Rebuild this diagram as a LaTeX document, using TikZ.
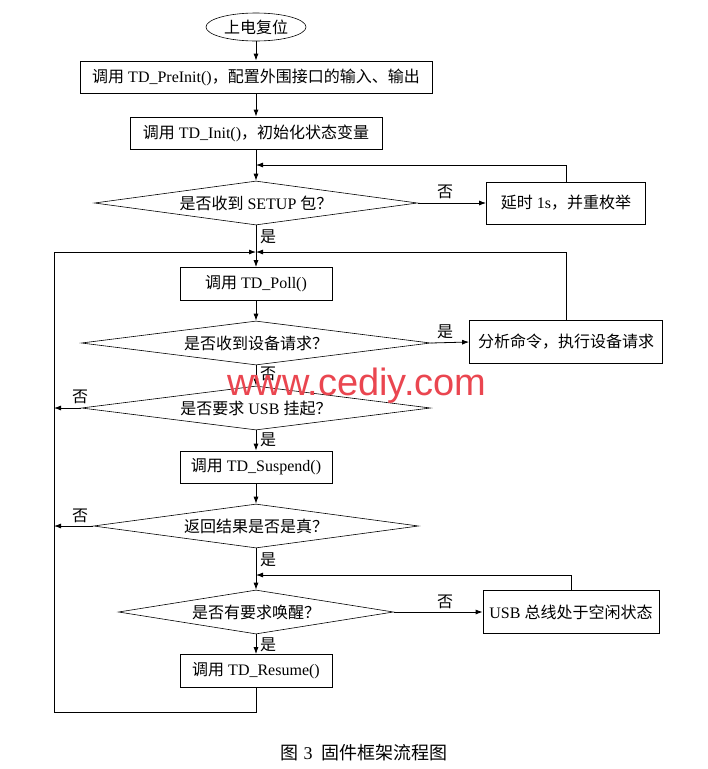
\documentclass[tikz,border=0pt]{standalone}
\usepackage{fontspec}
\setmainfont{Liberation Serif}
\newfontfamily\cjk{Noto Sans CJK SC}
\newfontfamily\wmfont{Liberation Sans}
\usetikzlibrary{shapes.geometric,arrows.meta}
\newcommand\zh[1]{{\cjk #1}}
\newcommand\myfs{\fontsize{16}{19}\selectfont}
\definecolor{wm}{RGB}{234,70,80}
\begin{document}
\begin{tikzpicture}[x=1pt,y=-1pt, line width=0.8pt,
  >={Latex[length=7pt,width=5pt]},
  box/.style={draw,rectangle,inner sep=0pt,font=\myfs},
  dia/.style={draw,diamond,inner sep=0pt,line width=0.6pt},
  lab/.style={font=\myfs,inner sep=0pt}]
\useasboundingbox (0,0) rectangle (708,769);
% nodes
\node[draw,ellipse,inner sep=0pt,minimum width=100pt,minimum height=28pt,line width=0.6pt,font=\myfs] (start) at (256,27) {\zh{上电复位}};
\node[box,minimum width=352pt,minimum height=32pt] (b1) at (256,77) {\zh{调用} TD\_PreInit()\zh{，配置外围接口的输入、输出}};
\node[box,minimum width=252pt,minimum height=32pt] (b2) at (256,133) {\zh{调用} TD\_Init()\zh{，初始化状态变量}};
\node[dia,minimum width=323pt,minimum height=44pt] (d1) at (256,203) {};
\node[lab] (t1) at (d1) {\zh{是否收到} SETUP \zh{包？}};
\node[box,minimum width=159pt,minimum height=42pt] (delay) at (566,203) {\zh{延时} 1s\zh{，并重枚举}};
\node[box,minimum width=152pt,minimum height=33pt] (poll) at (256,284) {\zh{调用} TD\_Poll()};
\node[dia,minimum width=349pt,minimum height=44pt] (d2) at (256,343) {};
\node[lab] (t2) at (d2) {\zh{是否收到设备请求？}};
\node[box,minimum width=193pt,minimum height=43pt] (ana) at (566,342) {\zh{分析命令，执行设备请求}};
\node[dia,minimum width=349pt,minimum height=44pt] (d3) at (256,408) {};
\node[lab] (t3) at (d3) {\zh{是否要求} USB \zh{挂起？}};
\node[box,minimum width=152pt,minimum height=32pt] (susp) at (256,467) {\zh{调用} TD\_Suspend()};
\node[dia,minimum width=325pt,minimum height=44pt] (d4) at (256,526) {};
\node[lab] (t4) at (d4) {\zh{返回结果是否是真？}};
\node[dia,minimum width=275pt,minimum height=44pt] (d5) at (256,612) {};
\node[lab] (t5) at (d5) {\zh{是否有要求唤醒？}};
\node[box,minimum width=176pt,minimum height=43pt] (usb) at (571,612) {USB \zh{总线处于空闲状态}};
\node[box,minimum width=152pt,minimum height=33pt] (res) at (256,671) {\zh{调用} TD\_Resume()};
% coordinates
\coordinate (j1) at (256,165);
\coordinate (j2) at (256,252);
\coordinate (j3) at (256,575);
\coordinate (lb) at (54,712);
% connectors
\draw[->] (start) -- (b1);
\draw[->] (b1) -- (b2);
\draw[->] (b2) -- (d1);
\draw[->] (delay.north) |- (j1);
\draw[->] (d1.east) -- (delay.west);
\draw[->] (d1.south) -- (poll.north);
\draw[->] (poll) -- (d2);
\draw[->] (d2.east) -- (ana.west);
\draw[->] (ana.north) |- (j2);
\draw[->] (d2.south) -- (d3.north);
\draw[->] (d3.west) -- (d3.west -| lb);
\draw[->] (d3.south) -- (susp.north);
\draw[->] (susp) -- (d4);
\draw[->] (d4.west) -- (d4.west -| lb);
\draw[->] (d4.south) -- (d5.north);
\draw[->] (usb.north) |- (j3);
\draw[->] (d5.east) -- (usb.west);
\draw[->] (d5.south) -- (res.north);
\draw[->] (res.south) |- (lb) |- (j2);
% labels
\node[lab] (l1) at (445,192) {\zh{否}};
\node[lab] (l2) at (268,237) {\zh{是}};
\node[lab] (l3) at (445,332) {\zh{是}};
\node[lab] (l4) at (268,374) {\zh{否}};
\node[lab] (l5) at (80,397) {\zh{否}};
\node[lab] (l6) at (268,440) {\zh{是}};
\node[lab] (l7) at (80,516) {\zh{否}};
\node[lab] (l8) at (268,560) {\zh{是}};
\node[lab] (l9) at (445,602) {\zh{否}};
\node[lab] (l10) at (268,645) {\zh{是}};
% watermark
\node[text=wm,inner sep=0pt,font=\wmfont\fontsize{38}{40}\selectfont] (wmark) at (357,386) {www.cediy.com};
% caption
\node[inner sep=0pt,font=\fontsize{18}{21}\selectfont] (cap) at (364,753) {\zh{图}\hspace{5pt}3\hspace{9pt}\zh{固件框架流程图}};
\end{tikzpicture}
\end{document}
